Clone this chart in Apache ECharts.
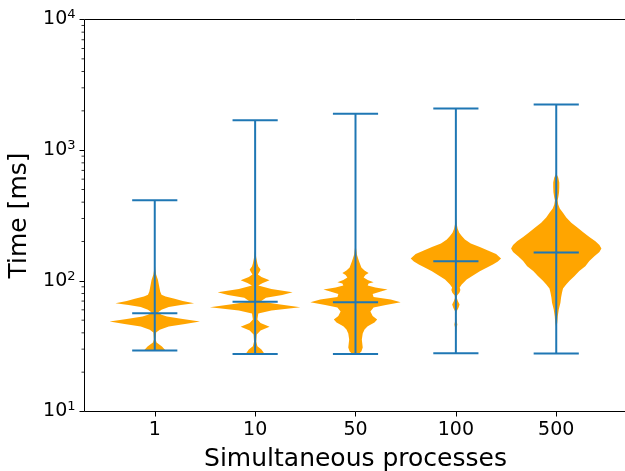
<!DOCTYPE html>
<html><head><meta charset="utf-8">
<script src="https://cdn.jsdelivr.net/npm/echarts@6/dist/echarts.min.js"></script>
<style>html,body{margin:0;padding:0;background:#fff}#c{width:625px;height:471px}</style>
</head><body><div id="c"></div>
<script>
// ---- data ----
const categories = ['1', '10', '50', '100', '500'];
const positions = [1, 2, 3, 4, 5];
const maxValues = [414, 1696, 1898, 2084, 2236];
const minValues = [29.3, 27.6, 27.6, 27.9, 27.8];
const meanValues = [56.5, 69.1, 68.6, 141.3, 165];
// violin outlines: [time in ms, relative density (1 = widest)]
const profile1 = [[29.3,0.24],[31.4,0.16],[33.7,0.04],[35.6,0.02],[40.2,0.03],[42.2,0.11],[44.7,0.31],[46.7,0.67],[48.9,1],[51.0,0.62],[53.3,0.27],[55.0,0.15],[57.3,0.07],[60.0,0.15],[63.1,0.31],[65.3,0.58],[67.4,0.87],[70.1,0.62],[72.9,0.44],[75.9,0.24],[78.2,0.15],[82.8,0.12],[93.7,0.09],[102,0.07],[112,0.03],[122,0.012],[133,0.003]];
const profile2 = [[27.6,0.21],[29.8,0.14],[31.6,0.05],[34.3,0.024],[38.8,0.036],[41.7,0.12],[44.5,0.32],[47.6,0.12],[50.6,0.05],[56.2,0.07],[59.3,0.36],[62.8,1],[66.5,0.48],[69.5,0.12],[74.2,0.24],[77.9,0.6],[81.8,0.83],[86.6,0.36],[92.1,0.07],[96.2,0.17],[101.1,0.32],[107,0.14],[111.8,0.06],[117.9,0.1],[122,0.12],[128.8,0.07],[135.7,0.05],[150.8,0.024],[167.7,0.007]];
const profile3 = [[27.6,0.07],[28.8,0.13],[30.9,0.16],[35.6,0.14],[39.5,0.16],[42.4,0.2],[45.0,0.27],[48.0,0.42],[50.6,0.48],[53.8,0.38],[58.3,0.33],[62.5,0.4],[65.3,0.67],[68.6,1],[71.9,0.78],[75.2,0.4],[79.3,0.38],[82.8,0.56],[85.8,0.71],[88.9,0.44],[92.1,0.27],[95.4,0.29],[97.6,0.4],[101.5,0.27],[106,0.18],[110.8,0.22],[114.8,0.29],[120,0.2],[126.5,0.13],[140.6,0.08],[159,0.03],[183,0.007]];
const profile4 = [[27.9,0.002],[38.8,0.004],[43.9,0.018],[46.3,0.033],[48.9,0.018],[54.3,0.007],[58.6,0.018],[61.9,0.056],[65.9,0.082],[70.1,0.044],[73.9,0.022],[77.2,0.027],[81.0,0.078],[85.1,0.1],[88.9,0.084],[93.7,0.13],[102.4,0.24],[109.9,0.38],[118.5,0.53],[126.5,0.69],[133.4,0.82],[140.6,0.93],[148.2,1],[160.5,0.89],[170.7,0.71],[181.5,0.53],[193.1,0.33],[207.2,0.2],[220,0.13],[233.2,0.075],[250,0.04],[270,0.02],[300,0.008],[339,0.002]];
const profile5 = [[27.8,0.001],[44.7,0.007],[47.7,0.022],[53.3,0.033],[60.3,0.056],[67.9,0.093],[74.6,0.107],[81.0,0.127],[87.4,0.15],[93.7,0.22],[100.6,0.3],[108.5,0.4],[118.9,0.51],[129.4,0.644],[141.8,0.733],[154.3,0.844],[166.2,0.956],[176.8,1],[188.1,0.956],[201.1,0.867],[216.5,0.733],[233.2,0.611],[256,0.467],[278,0.333],[305.2,0.222],[331.5,0.149],[357.6,0.078],[383.8,0.044],[411.8,0.029],[434,0.044],[474,0.062],[518,0.067],[566,0.067],[618,0.044],[651,0.011],[680,0.002]];
const yMinorTicks = [20,30,40,50,60,70,80,90,200,300,400,500,600,700,800,900,2000,3000,4000,5000,6000,7000,8000,9000];

// ---- drawing ----
const profiles = [profile1, profile2, profile3, profile4, profile5];
const HALF = 0.45, CAP = 0.225;
const BLUE = '#1f77b4', ORANGE = '#ffa500';
const FONT = 'DejaVu Sans';

const chart = echarts.init(document.getElementById('c'), null, {renderer: 'canvas'});

function violinItem(params, api) {
  const i = params.dataIndex;
  const pos = api.value(0);
  const prof = profiles[i];
  const right = prof.map(p => api.coord([pos + HALF * p[1], p[0]]));
  const left = prof.slice().reverse().map(p => api.coord([pos - HALF * p[1], p[0]]));
  const lo = api.coord([pos, minValues[i]]);
  const hi = api.coord([pos, maxValues[i]]);
  const mean = api.coord([pos, meanValues[i]]);
  const capL = api.coord([pos - CAP, minValues[i]])[0];
  const capR = api.coord([pos + CAP, minValues[i]])[0];
  const ls = {stroke: BLUE, lineWidth: 2};
  return {type: 'group', children: [
    {type: 'polygon', shape: {points: right.concat(left)}, style: {fill: ORANGE}},
    {type: 'line', shape: {x1: lo[0], y1: lo[1], x2: hi[0], y2: hi[1]}, style: ls},
    {type: 'line', shape: {x1: capL, y1: lo[1], x2: capR, y2: lo[1]}, style: ls},
    {type: 'line', shape: {x1: capL, y1: hi[1], x2: capR, y2: hi[1]}, style: ls},
    {type: 'line', shape: {x1: capL, y1: mean[1], x2: capR, y2: mean[1]}, style: ls}
  ]};
}

function minorTickItem(params, api) {
  const p = api.coord([api.value(0), api.value(1)]);
  return {type: 'line', shape: {x1: p[0] - 3, y1: p[1], x2: p[0], y2: p[1]}, style: {stroke: '#000', lineWidth: 0.8}};
}

const option = {
  animation: false,
  backgroundColor: '#fff',
  grid: {left: 84.5, top: 19.5, width: 542, height: 392, show: true, borderColor: '#000', borderWidth: 1,
         backgroundColor: 'transparent', containLabel: false, outerBoundsMode: 'none'},
  xAxis: {
    type: 'value', min: 0.3, max: 5.7,
    axisLine: {show: false},
    splitLine: {show: false},
    axisTick: {show: true, customValues: positions, length: 5, lineStyle: {color: '#000', width: 1}},
    axisLabel: {customValues: positions, formatter: v => categories[Math.round(v) - 1], fontSize: 19, fontFamily: FONT, color: '#000', margin: 9},
    name: 'Simultaneous processes', nameLocation: 'middle', nameGap: 35,
    nameTextStyle: {fontSize: 25, fontFamily: FONT, color: '#000'}
  },
  yAxis: {
    type: 'log', logBase: 10, min: 10, max: 10000,
    axisLine: {show: false},
    splitLine: {show: false},
    axisTick: {show: true, length: 5, lineStyle: {color: '#000', width: 1}},
    axisLabel: {
      formatter: v => '{b|10}{s|' + Math.round(Math.log10(v)) + '}',
      margin: 9,
      rich: {
        b: {fontSize: 19, fontFamily: FONT, color: '#000', lineHeight: 22},
        s: {fontSize: 13, fontFamily: FONT, color: '#000', verticalAlign: 'top', lineHeight: 14}
      }
    },
    name: 'Time [ms]', nameLocation: 'middle', nameGap: 51,
    nameTextStyle: {fontSize: 25, fontFamily: FONT, color: '#000'}
  },
  series: [
    {type: 'custom', renderItem: violinItem, clip: false, z: 3,
     data: positions.map((p, i) => [p, minValues[i], maxValues[i]]), encode: {x: 0, y: [1, 2]}},
    {type: 'custom', renderItem: minorTickItem, clip: false, z: 4,
     data: yMinorTicks.map(v => [0.3, v]), encode: {x: 0, y: 1}}
  ]
};
chart.setOption(option);
</script>
</body></html>
